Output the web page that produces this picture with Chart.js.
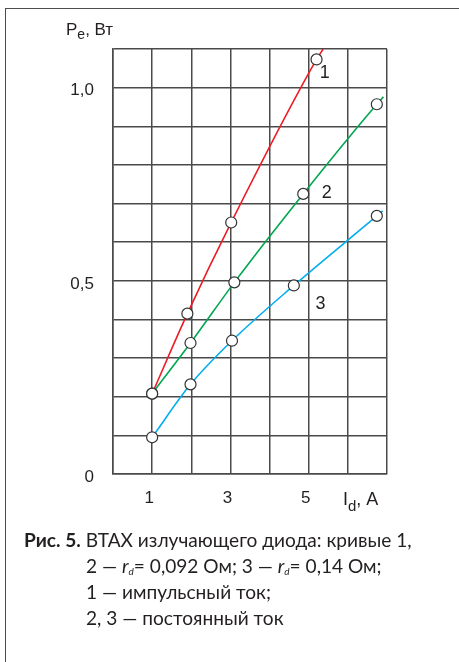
<!DOCTYPE html>
<html>
<head>
<meta charset="utf-8">
<script src="https://cdn.jsdelivr.net/npm/chart.js@4.4.1/dist/chart.umd.min.js"></script>
<style>
    html, body { margin: 0; padding: 0; background: #fff; overflow: hidden; }
    #wrap { position: relative; width: 459px; height: 662px; }
    #frame { position: absolute; left: 5px; top: 8px; width: 480px; height: 680px;
             border-left: 1.6px solid #4d4d4d; border-top: 1.6px solid #4d4d4d; box-sizing: border-box; }
    #grafico { position: absolute; left: 0; top: 0; }
    #caption { position: absolute; left: 24px; top: 527px; font-family: Lato, sans-serif;
               font-size: 19.1px; line-height: 26px; color: #231f20; white-space: nowrap; }
    #caption .ind { padding-left: 62px; }
    #caption sub { font-size: 10px; font-style: italic; vertical-align: -2px; line-height: 0; }
</style>
</head>
<body>
<div id="wrap">
    <div id="frame"></div>
    <canvas id="grafico" width="459" height="662"></canvas>
    <div id="caption">
        <div><b>Рис. 5.</b> ВТАХ излучающего диода: кривые 1,</div>
        <div class="ind">2 — <i>r</i><sub>d</sub>= 0,092 Ом; 3 — <i>r</i><sub>d</sub>= 0,14 Ом;</div>
        <div class="ind">1 — импульсный ток;</div>
        <div class="ind">2, 3 — постоянный ток</div>
    </div>
</div>
<script>
    // Datos (I_d en A, P_e en W)
    const curva1X = [1, 1.9, 3.02, 5.2, 5.37];
    const curva1Y = [0.208, 0.415, 0.651, 1.073, 1.1];
    const curva2X = [1, 1.98, 3.1, 4.86, 6.74, 6.91];
    const curva2Y = [0.208, 0.339, 0.496, 0.725, 0.957, 0.976];
    const curva3X = [1, 1.98, 3.04, 4.62, 6.74, 6.89];
    const curva3Y = [0.095, 0.232, 0.345, 0.488, 0.668, 0.681];

    // Etiquetas de ejes
    const ticksX = [1, 3, 5];
    const ticksY = [0, 0.5, 1.0];
    const ticksYTexto = ['0', '0,5', '1,0'];

    // Números de curva y donde se colocan (coordenadas de datos)
    const etiquetasCurva = ['1', '2', '3'];
    const etiquetasX = [5.41, 5.46, 5.30];
    const etiquetasY = [1.039, 0.727, 0.44];

    const colores = ['#ed1c24', '#00a651', '#00aeef'];
    const gris = '#4a4a4a';
    const fuente = '"Liberation Sans", Arial, sans-serif';

    function puntos(xs, ys) {
        return xs.map((x, i) => ({ x: x, y: ys[i] }));
    }

    // El último punto de cada curva solo prolonga la línea, sin marcador
    function radios(xs) {
        return xs.map((x, i) => i === xs.length - 1 ? 0 : 5.5);
    }

    function serie(xs, ys, color) {
        return {
            data: puntos(xs, ys),
            borderColor: color,
            borderWidth: 1.6,
            cubicInterpolationMode: 'monotone',
            pointRadius: radios(xs),
            pointBackgroundColor: '#fff',
            pointBorderColor: '#333',
            pointBorderWidth: 1.2,
            fill: false
        };
    }

    // Títulos de ejes con subíndice y números de curva
    const textosExtra = {
        id: 'textosExtra',
        afterDraw(chart) {
            const ctx = chart.ctx;
            const sx = chart.scales.x, sy = chart.scales.y;
            ctx.save();
            ctx.fillStyle = '#231f20';
            ctx.textBaseline = 'alphabetic';
            ctx.textAlign = 'left';

            // P_e, Вт
            ctx.font = '17px ' + fuente;
            let x = 66;
            ctx.fillText('P', x, 35);
            x += ctx.measureText('P').width;
            ctx.font = '14px ' + fuente;
            ctx.fillText('e', x, 39);
            x += ctx.measureText('e').width;
            ctx.font = '17px ' + fuente;
            ctx.fillText(', Вт', x, 35);

            // I_d, A
            ctx.font = '18px ' + fuente;
            x = 343;
            ctx.fillText('I', x, 505);
            x += ctx.measureText('I').width;
            ctx.font = '15px ' + fuente;
            ctx.fillText('d', x, 511);
            x += ctx.measureText('d').width;
            ctx.font = '18px ' + fuente;
            ctx.fillText(', A', x, 505);

            // números de curva
            ctx.font = '18px ' + fuente;
            ctx.textAlign = 'center';
            ctx.textBaseline = 'middle';
            etiquetasCurva.forEach((t, i) => {
                ctx.fillText(t, sx.getPixelForValue(etiquetasX[i]), sy.getPixelForValue(etiquetasY[i]));
            });
            ctx.restore();
        }
    };

    const ctx1 = document.getElementById('grafico').getContext('2d');
    const chart1 = new Chart(ctx1, {
        type: 'line',
        data: {
            datasets: [
                serie(curva1X, curva1Y, colores[0]),
                serie(curva2X, curva2Y, colores[1]),
                serie(curva3X, curva3Y, colores[2])
            ]
        },
        options: {
            responsive: false,
            animation: false,
            layout: { padding: { left: 0, top: 49, right: 72, bottom: 0 } },
            plugins: { legend: { display: false }, tooltip: { enabled: false } },
            scales: {
                x: {
                    type: 'linear',
                    min: 0,
                    max: 7,
                    afterFit(scale) { scale.height = 188; },
                    grid: { color: gris, lineWidth: 1.5, drawTicks: false },
                    border: { color: gris, width: 1.5 },
                    ticks: {
                        stepSize: 1,
                        padding: 14,
                        labelOffset: -3,
                        color: '#231f20',
                        font: { family: fuente, size: 17 },
                        callback: v => ticksX.includes(v) ? String(v) : ''
                    }
                },
                y: {
                    type: 'linear',
                    min: 0,
                    max: 1.1,
                    afterFit(scale) { scale.width = 113; },
                    grid: { color: gris, lineWidth: 1.5, drawTicks: false },
                    border: { color: gris, width: 1.5 },
                    ticks: {
                        stepSize: 0.1,
                        padding: 19,
                        labelOffset: 3,
                        color: '#231f20',
                        font: { family: fuente, size: 17 },
                        callback: v => {
                            const i = ticksY.findIndex(t => Math.abs(t - v) < 1e-6);
                            return i >= 0 ? ticksYTexto[i] : '';
                        }
                    }
                }
            }
        },
        plugins: [textosExtra]
    });
</script>
</body>
</html>
